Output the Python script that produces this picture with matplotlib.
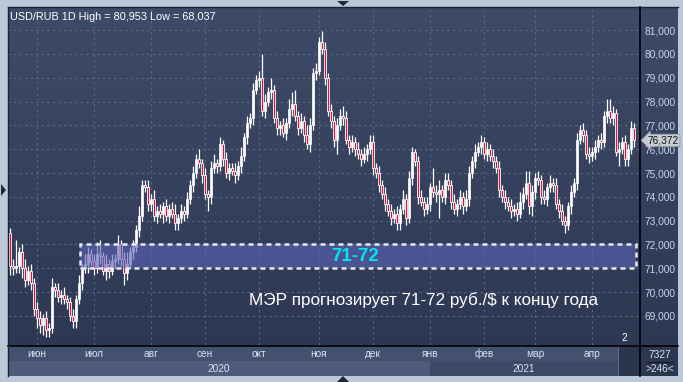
import numpy as np
import matplotlib.pyplot as plt
from matplotlib.colors import LinearSegmentedColormap
from matplotlib.patches import Rectangle, Polygon
import matplotlib.transforms as mtransforms

# %%
# USD/RUB daily candles (close values)
first_open = 72.5
closes = [
    71.1, 71.0, 71.1, 71.7, 71.0, 70.5, 70.9, 70.4, 69.3, 68.9,
    68.6, 68.9, 68.4, 68.5, 70.2, 70.1, 69.8, 69.9, 69.7, 69.6,
    69.0, 68.8, 69.7, 70.4, 71.0, 71.2, 71.6, 71.3, 71.0, 71.6,
    71.5, 70.9, 71.2, 70.9, 71.3, 71.4, 72.0, 71.4, 70.8, 71.2,
    71.7, 71.9, 72.6, 73.2, 74.5, 74.4, 73.7, 73.9, 73.2, 73.4,
    73.3, 73.6, 73.2, 73.5, 73.3, 72.9, 73.1, 73.4, 73.3, 73.9,
    74.5, 75.0, 75.6, 75.4, 74.9, 74.1, 74.0, 75.2, 75.4, 75.3,
    76.2, 75.6, 75.0, 75.2, 75.1, 74.9, 75.3, 75.7, 76.5, 77.1,
    77.3, 78.5, 78.9, 79.0, 77.6, 78.0, 78.4, 78.5, 77.3, 76.9,
    77.0, 76.7, 77.1, 77.7, 77.9, 77.4, 76.9, 77.2, 76.6, 76.2,
    77.0, 79.2, 79.3, 80.5, 80.2, 79.0, 77.6, 77.2, 76.4, 77.0,
    77.4, 77.3, 76.4, 76.1, 76.3, 76.0, 75.8, 75.6, 75.8, 76.0,
    76.3, 75.2, 75.0, 74.5, 74.1, 73.7, 73.4, 73.1, 73.3, 72.9,
    73.5, 73.9, 73.1, 74.8, 75.9, 75.5, 74.0, 73.8, 73.5, 73.7,
    74.4, 74.2, 74.1, 74.3, 74.0, 74.7, 74.5, 73.8, 73.5, 73.7,
    74.0, 73.6, 73.9, 75.0, 75.5, 75.9, 76.1, 76.3, 75.8, 76.0,
    75.7, 75.5, 75.2, 74.3, 74.0, 73.8, 73.6, 73.4, 73.5, 73.3,
    73.8, 74.1, 74.6, 73.6, 74.2, 74.8, 74.7, 74.0, 73.9, 74.4,
    74.6, 74.5, 73.7, 73.4, 73.0, 72.8, 73.6, 74.2, 74.6, 76.4,
    76.8, 76.6, 75.8, 75.7, 75.9, 76.1, 76.4, 76.3, 77.4, 77.6,
    77.3, 77.5, 75.9, 76.0, 76.3, 75.6, 76.0, 76.9, 76.372,
]
# wick above the body / below the body
wick_hi = [
    0.2, 0.3, 1.1, 0.2, 0.3, 0.4, 0.2, 0.3, 0.2, 0.3,
    0.3, 0.2, 0.3, 0.2, 0.4, 0.2, 0.3, 0.2, 0.3, 0.2,
    0.2, 0.3, 0.2, 0.3, 0.2, 0.4, 0.3, 0.2, 0.3, 0.5,
    0.6, 0.2, 0.4, 0.2, 0.3, 0.2, 0.4, 0.2, 0.3, 0.5,
    0.2, 0.3, 0.2, 0.4, 0.2, 0.2, 0.3, 0.2, 0.4, 0.2,
    0.3, 0.2, 0.3, 0.2, 0.3, 0.4, 0.2, 0.3, 0.2, 0.3,
    0.2, 0.3, 0.2, 0.4, 0.2, 0.3, 0.2, 0.3, 0.4, 0.2,
    0.3, 0.2, 0.3, 0.2, 0.2, 0.3, 0.2, 0.4, 0.2, 0.3,
    0.2, 0.3, 0.2, 0.3, 1.0, 0.3, 0.2, 0.5, 0.2, 0.3,
    0.2, 0.3, 0.2, 0.4, 0.5, 0.6, 0.2, 0.3, 0.2, 0.4,
    0.3, 0.2, 0.3, 0.2, 0.45, 0.3, 0.2, 0.3, 0.2, 0.3,
    0.3, 0.4, 0.3, 0.2, 0.3, 0.2, 0.3, 0.2, 0.3, 0.2,
    0.3, 0.3, 0.2, 0.3, 0.2, 0.3, 0.2, 0.3, 0.2, 0.3,
    0.2, 0.4, 0.2, 0.3, 0.2, 0.1, 0.2, 0.3, 0.2, 0.3,
    0.2, 0.8, 0.3, 0.4, 0.2, 0.3, 0.3, 0.2, 0.3, 0.2,
    0.3, 0.2, 0.4, 0.3, 0.2, 0.3, 0.2, 0.3, 0.2, 0.3,
    0.2, 0.3, 0.2, 0.3, 0.2, 0.3, 0.2, 0.3, 0.2, 0.3,
    0.4, 0.3, 0.5, 0.5, 0.3, 0.2, 0.3, 0.2, 0.3, 0.2,
    0.3, 0.2, 0.3, 0.2, 0.3, 0.2, 0.2, 0.3, 0.2, 0.3,
    0.2, 0.3, 0.2, 0.3, 0.2, 0.3, 0.2, 0.3, 0.2, 0.5,
    0.5, 0.3, 0.2, 0.3, 0.2, 0.3, 0.2, 0.3, 0.2,
]
wick_lo = [
    0.4, 0.3, 0.2, 0.3, 0.4, 0.3, 0.2, 0.3, 0.3, 0.4,
    0.3, 0.4, 0.3, 0.3, 0.2, 0.3, 0.2, 0.3, 0.2, 0.3,
    0.2, 0.3, 0.3, 0.2, 0.3, 0.2, 0.4, 0.2, 0.3, 0.2,
    0.3, 0.2, 0.4, 0.3, 0.2, 0.3, 0.2, 0.3, 0.5, 0.3,
    0.2, 0.3, 0.2, 0.3, 0.2, 0.2, 0.3, 0.3, 0.2, 0.3,
    0.2, 0.4, 0.2, 0.3, 0.2, 0.3, 0.3, 0.2, 0.3, 0.2,
    0.2, 0.3, 0.2, 0.2, 0.3, 0.2, 0.6, 0.3, 0.2, 0.3,
    0.2, 0.3, 0.2, 0.3, 0.2, 0.3, 0.2, 0.3, 0.2, 0.3,
    0.2, 0.3, 0.2, 0.3, 0.2, 0.3, 0.2, 0.3, 0.2, 0.3,
    0.3, 0.2, 0.3, 0.2, 0.3, 0.2, 0.3, 0.2, 0.3, 0.2,
    0.3, 0.2, 0.3, 0.2, 0.2, 0.3, 0.2, 0.3, 0.3, 0.6,
    0.2, 0.3, 0.2, 0.3, 0.2, 0.3, 0.2, 0.3, 0.2, 0.3,
    0.2, 0.3, 0.2, 0.3, 0.2, 0.3, 0.2, 0.3, 0.2, 0.3,
    0.3, 0.2, 0.3, 0.2, 0.3, 0.2, 0.3, 0.2, 0.3, 0.2,
    0.3, 0.2, 0.3, 1.0, 0.2, 0.3, 0.2, 0.3, 0.2, 0.3,
    0.2, 0.3, 0.2, 0.3, 0.2, 0.3, 0.2, 0.3, 0.2, 0.3,
    0.2, 0.3, 0.2, 0.3, 0.2, 0.3, 0.2, 0.3, 0.2, 0.3,
    0.2, 0.3, 0.2, 0.3, 0.4, 0.3, 0.2, 0.3, 0.2, 0.3,
    0.2, 0.3, 0.2, 0.3, 0.2, 0.3, 0.2, 0.3, 0.2, 0.3,
    0.2, 0.3, 0.2, 0.3, 0.2, 0.3, 0.2, 0.3, 0.2, 0.3,
    0.2, 0.3, 0.2, 0.6, 0.2, 0.3, 0.3, 0.2, 0.3,
]

month_labels = ['июн', 'июл', 'авг', 'сен', 'окт', 'ноя', 'дек', 'янв', 'фев', 'мар', 'апр']
month_start = [9, 28, 47, 65, 83, 103, 121, 140, 158, 175, 194]
year_labels = ['2020', '2021']
price_ticks = [69, 70, 71, 72, 73, 74, 75, 76, 77, 78, 79, 80, 81]
target_lo, target_hi = 71, 72
title = 'USD/RUB 1D High = 80,953 Low = 68,037'
note = 'МЭР прогнозирует 71-72 руб./$ к концу года'

# %%
closes = np.array(closes)
opens = np.concatenate([[first_open], closes[:-1]])
highs = np.maximum(opens, closes) + np.array(wick_hi)
lows = np.minimum(opens, closes) - np.array(wick_lo)
idx = np.arange(len(closes))

plt.rcParams['font.family'] = ['Liberation Sans', 'DejaVu Sans']

W, H = 683, 382


def rect(x0, y0, x1, y1):
    return [x0 / W, 1 - y1 / H, (x1 - x0) / W, (y1 - y0) / H]


fig = plt.figure(figsize=(W / 100, H / 100), dpi=100, facecolor='#bcc7d7')

# dark gradient background
bg = fig.add_axes(rect(8, 7, 678, 376))
cmap = LinearSegmentedColormap.from_list('bg', ['#3e4b68', '#2c3651'])
bg.imshow(np.linspace(0, 1, 256).reshape(-1, 1), aspect='auto', cmap=cmap,
          extent=[0, 1, 0, 1])
bg.set_xlim(0, 1)
bg.set_ylim(0, 1)
bg.axis('off')

ax = fig.add_axes(rect(8, 7, 640, 345))
ax.patch.set_alpha(0)
xmin, xmax = -0.67, 210
ax.set_xlim(xmin, xmax)
ax.set_ylim(67.78, 81.97)

# grid
for p in price_ticks:
    ax.axhline(p, color='#5b6884', lw=0.8, ls=(0, (2, 3)), zorder=1)
for m in month_start:
    ax.axvline(m, color='#5b6884', lw=0.8, ls=(0, (2, 3)), zorder=1)

# candles
up = closes >= opens
ax.vlines(idx, lows, highs, color='white', lw=0.9, zorder=3)
body_lo = np.minimum(opens, closes)
body_h = np.maximum(np.abs(closes - opens), 0.04)
ax.bar(idx[up], body_h[up], bottom=body_lo[up], width=0.75, color='white',
       edgecolor='white', lw=0.5, zorder=4)
ax.bar(idx[~up], body_h[~up], bottom=body_lo[~up], width=0.75, color='#e0103a',
       edgecolor='white', lw=0.6, zorder=4)

# forecast band
band_x0 = 23.3
ax.add_patch(Rectangle((band_x0, target_lo), xmax - 1.3 - band_x0, target_hi - target_lo,
                       facecolor='#5c63b9', alpha=0.62, edgecolor='none', zorder=5))
ax.add_patch(Rectangle((band_x0, target_lo), xmax - 1.3 - band_x0, target_hi - target_lo,
                       facecolor='none', edgecolor='#e8e8f0', lw=1.8,
                       ls=(0, (2, 1.6)), zorder=6))
ax.text(115, (target_lo + target_hi) / 2, '71-72', color='#00e6f0', fontsize=13.5,
        fontweight='bold', ha='center', va='center', zorder=7)
ax.text(137.7, 69.68, note, color='white', fontsize=12.3, ha='center',
        va='center', zorder=7)

ax.text(0.003, 0.985, title, transform=ax.transAxes, color='white', fontsize=7.8,
        ha='left', va='top')

ax.set_xticks([])
ax.yaxis.tick_right()
ax.set_yticks(price_ticks)
ax.set_yticklabels(['%d,000' % p for p in price_ticks])
ax.tick_params(axis='y', length=0, pad=3, labelsize=7.3, labelcolor='#c6d6ef')
for s in ax.spines.values():
    s.set_visible(False)
ax.spines['right'].set_visible(True)
ax.spines['right'].set_color('black')
ax.spines['right'].set_linewidth(1.2)

# last price tag
tr = mtransforms.blended_transform_factory(ax.transAxes, ax.transData)
ax.text(1.012, closes[-1], '76,372', transform=tr, fontsize=7.3, color='#101010',
        ha='left', va='center', zorder=8,
        bbox=dict(boxstyle='larrow,pad=0.12', fc='#c8ccd3', ec='#8a909a', lw=0.5))

ax.text(0.975, 0.005, '2', transform=ax.transAxes, color='white', fontsize=7.3,
        ha='center', va='bottom')

# date panel
dx = fig.add_axes(rect(8, 345, 640, 376))
dx.set_xlim(xmin, xmax)
dx.set_ylim(0, 2)
dx.add_patch(Rectangle((xmin, 1.0), xmax - xmin, 1.0, fc='#435070', ec='none'))
dx.add_patch(Rectangle((xmin, 0), month_start[7] - xmin, 1.0, fc='#4e5b7b', ec='none'))
dx.add_patch(Rectangle((month_start[7], 0), 202.7 - month_start[7], 1.0, fc='#3d4967', ec='none'))
dx.add_patch(Rectangle((202.7, 0), xmax - 202.7, 2.0, fc='#2b3550', ec='#6a7690', lw=0.6))
for lab, m in zip(month_labels, month_start):
    dx.text(m, 1.45, lab, color='#d8e2f2', fontsize=7.3, ha='center', va='center')
dx.text((xmin + month_start[7]) / 2, 0.45, year_labels[0], color='#d8e2f2', fontsize=7.3,
        ha='center', va='center')
dx.text((month_start[7] + 202.7) / 2, 0.45, year_labels[1], color='#d8e2f2', fontsize=7.3,
        ha='center', va='center')
dx.axis('off')

# right bottom box
fig.text(660 / W, 1 - 355 / H, '7327', color='#d8e2f2', fontsize=7.3, ha='center', va='center')
fig.text(660 / W, 1 - 369 / H, '>246<', color='#d8e2f2', fontsize=7.3, ha='center', va='center')
fig.add_artist(plt.Line2D([647 / W, 673 / W], [1 - 362 / H, 1 - 362 / H], color='#101828', lw=0.8))

# frame lines
fig.add_artist(plt.Line2D([8 / W, 678 / W], [1 - 345.5 / H, 1 - 345.5 / H], color='black', lw=1.2))
fig.add_artist(plt.Line2D([640 / W, 640 / W], [1 - 345 / H, 1 - 376 / H], color='black', lw=1.2))
fig.add_artist(plt.Line2D([8 / W, 678 / W], [1 - 7 / H, 1 - 7 / H], color='#1a2233', lw=1.0))
fig.add_artist(plt.Line2D([8 / W, 8 / W], [1 - 7 / H, 1 - 376 / H], color='#1a2233', lw=1.0))

# little arrow markers on the frame


def tri(pts):
    fig.add_artist(Polygon([(x / W, 1 - y / H) for x, y in pts], closed=True,
                           fc='#1e283c', ec='none', transform=fig.transFigure))


tri([(337, 1), (349, 1), (343, 6)])
tri([(337, 382), (349, 382), (343, 376)])
tri([(1, 184), (1, 196), (6, 190)])

fig.savefig('out.png', dpi=100, facecolor=fig.get_facecolor())
